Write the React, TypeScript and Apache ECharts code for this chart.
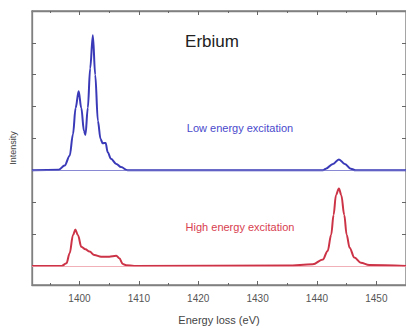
import React, { useEffect, useRef } from "react";
import * as echarts from "echarts";

// Low energy excitation (blue), intensity above its own baseline
const lowEnergy = [1392, 1396.5, 1397.5, 1398.35, 1398.9, 1399.35, 1399.86, 1400.3, 1400.75, 1401.0, 1401.4, 1401.8, 1402.25, 1402.65, 1403.1, 1403.55, 1403.9, 1404.4, 1404.75, 1405.3, 1406.2, 1407.0, 1408.1, 1441.0, 1441.5, 1442.7, 1443.7, 1444.7, 1445.7, 1446.5, 1455];
const lowIntensity = [0, 0.02, 0.15, 0.46, 1.13, 1.96, 2.48, 1.96, 1.24, 1.11, 1.96, 3.2, 4.24, 3.0, 1.55, 0.98, 0.85, 0.86, 0.57, 0.36, 0.2, 0.1, 0, 0, 0.05, 0.2, 0.34, 0.2, 0.05, 0, 0];
const lowOffset = 3;

// High energy excitation (red)
const highEnergy = [1392, 1397.0, 1397.8, 1398.35, 1398.9, 1399.3, 1399.75, 1400.3, 1401.0, 1401.7, 1402.5, 1403.65, 1405.0, 1406.2, 1406.7, 1407.3, 1407.85, 1409.2, 1435, 1439.3, 1441.0, 1441.8, 1442.4, 1442.8, 1443.2, 1443.7, 1444.1, 1444.6, 1445.0, 1445.5, 1446.3, 1447.4, 1448.8, 1455];
const highIntensity = [0, 0, 0.08, 0.4, 0.96, 1.14, 0.96, 0.6, 0.52, 0.45, 0.34, 0.29, 0.29, 0.32, 0.24, 0.06, 0.02, 0, 0.01, 0.05, 0.2, 0.47, 0.98, 1.6, 2.22, 2.43, 2.22, 1.6, 0.98, 0.57, 0.26, 0.1, 0.03, 0];

const xMajorTicks = [1400, 1410, 1420, 1430, 1440, 1450];
const xMinorTicks = [1395, 1405, 1415, 1425, 1435, 1445];
const yTicks = [0, 1, 2, 3, 4, 5, 6, 7];

const FONT = "Liberation Sans, Arial, sans-serif";
const AXIS_COLOR = "#808080";
const TICK_COLOR = "#666";
const BLUE = "#3a3ab8";
const RED = "#cc3346";

export default function App() {
  const ref = useRef<HTMLDivElement>(null);
  useEffect(() => {
    if (!ref.current) return;
    const chart = echarts.init(ref.current, undefined, { renderer: "svg" });
    const xRange = { min: 1392, max: 1455 };
    const majorX = (position: string, withLabels: boolean) => ({
      type: "value",
      position,
      ...xRange,
      axisLine: { show: true, onZero: false, lineStyle: { color: AXIS_COLOR, width: 1.3 } },
      axisTick: { show: true, inside: true, length: 4, customValues: xMajorTicks, lineStyle: { color: TICK_COLOR } },
      axisLabel: withLabels
        ? { show: true, customValues: xMajorTicks, formatter: (v: number) => String(v), color: "#555", fontSize: 10, fontFamily: FONT, margin: 8 }
        : { show: false },
      splitLine: { show: false },
      ...(withLabels
        ? {
            name: "Energy loss (eV)",
            nameLocation: "middle",
            nameGap: 29,
            nameTextStyle: { color: "#444", fontSize: 11, fontFamily: FONT },
          }
        : {}),
    });
    const minorX = (position: string) => ({
      type: "value",
      position,
      ...xRange,
      axisLine: { show: false, onZero: false },
      axisTick: { show: true, inside: true, length: 2, customValues: xMinorTicks, lineStyle: { color: TICK_COLOR } },
      axisLabel: { show: false },
      splitLine: { show: false },
    });
    const yAx = (position: string, withName: boolean) => ({
      type: "value",
      position,
      min: -0.6,
      max: 8,
      axisLine: { show: true, onZero: false, lineStyle: { color: AXIS_COLOR, width: 1.3 } },
      axisTick: { show: true, inside: true, length: 4, customValues: yTicks, lineStyle: { color: TICK_COLOR } },
      axisLabel: { show: false },
      splitLine: { show: false },
      ...(withName
        ? {
            name: "Intensity",
            nameLocation: "middle",
            nameGap: 15,
            nameTextStyle: { color: "#444", fontSize: 9, fontFamily: FONT },
          }
        : {}),
    });
    chart.setOption({
      animation: false,
      grid: { left: 32, top: 11, right: -3, bottom: 43, containLabel: false, show: true, borderColor: AXIS_COLOR, borderWidth: 1.3, backgroundColor: "transparent" },
      xAxis: [majorX("bottom", true), minorX("bottom"), majorX("top", false), minorX("top")],
      yAxis: [yAx("left", true), yAx("right", false)],
      graphic: [
        {
          type: "text",
          x: 212,
          y: 41,
          style: { text: "Erbium", fill: "#222", fontSize: 17, fontFamily: FONT, textAlign: "center", textVerticalAlign: "middle" },
        },
        {
          type: "text",
          x: 240,
          y: 128,
          style: { text: "Low energy excitation", fill: "#4a4acc", fontSize: 11, fontFamily: FONT, textAlign: "center", textVerticalAlign: "middle" },
        },
        {
          type: "text",
          x: 240,
          y: 227,
          style: { text: "High energy excitation", fill: "#d8404f", fontSize: 11, fontFamily: FONT, textAlign: "center", textVerticalAlign: "middle" },
        },
      ],
      series: [
        {
          type: "line",
          xAxisIndex: 0,
          yAxisIndex: 0,
          data: lowEnergy.map((x, i) => [x, lowIntensity[i] + lowOffset]),
          showSymbol: false,
          smooth: 0.35,
          smoothMonotone: "x",
          lineStyle: { color: BLUE, width: 2 },
          markLine: {
            silent: true,
            symbol: "none",
            label: { show: false },
            lineStyle: { color: "#6a6ac8", width: 0.8, type: "solid" },
            data: [{ yAxis: lowOffset }],
          },
        },
        {
          type: "line",
          xAxisIndex: 0,
          yAxisIndex: 0,
          data: highEnergy.map((x, i) => [x, highIntensity[i]]),
          showSymbol: false,
          smooth: 0.35,
          smoothMonotone: "x",
          lineStyle: { color: RED, width: 2 },
          markLine: {
            silent: true,
            symbol: "none",
            label: { show: false },
            lineStyle: { color: "#ee9aa6", width: 0.8, type: "solid" },
            data: [{ yAxis: 0 }],
          },
        },
      ],
    });
    return () => chart.dispose();
  }, []);
  return <div ref={ref} style={{ width: 406, height: 330, position: "absolute", left: 0, top: 0 }} />;
}
